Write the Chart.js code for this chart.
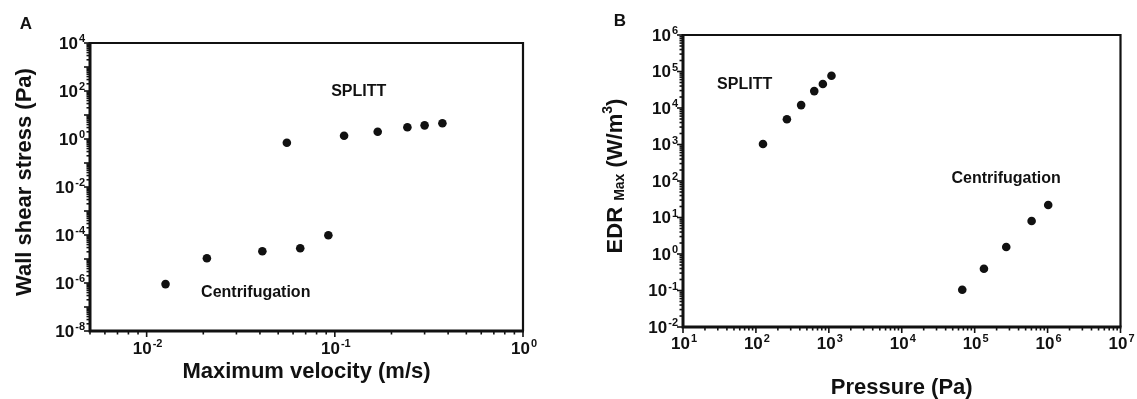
<!DOCTYPE html>
<html><head><meta charset="utf-8">
<script src="https://cdn.jsdelivr.net/npm/chart.js@4/dist/chart.umd.min.js"></script>
<style>
html,body{margin:0;padding:0;background:#fff;}
#wrap{position:relative;width:1137px;height:399px;overflow:hidden;background:#fff;}
#ca{position:absolute;left:0;top:0;width:560px;height:399px;}
#cb{position:absolute;left:560px;top:0;width:577px;height:399px;}
</style></head><body>
<div id="wrap"><div id="ca"><canvas id="a"></canvas></div><div id="cb"><canvas id="b"></canvas></div></div>
<script>
// ---- Panel A data ----
const aCentVel = [0.0126, 0.0209, 0.0412, 0.0655, 0.0924];
const aCentStress = [9e-7, 1.07e-5, 2.1e-5, 2.8e-5, 9.7e-5];
const aSplittVel = [0.0556, 0.112, 0.169, 0.243, 0.300, 0.373];
const aSplittStress = [0.70, 1.37, 2.0, 3.07, 3.7, 4.5];
const aXTickExps = [-2, -1, 0];
const aYTickExps = [-8, -6, -4, -2, 0, 2, 4];
// ---- Panel B data ----
const bSplittP = [125, 266, 417, 631, 828, 1087];
const bSplittEDR = [1030, 4900, 12000, 29000, 45500, 76700];
const bCentP = [67600, 134000, 271000, 604000, 1020000];
const bCentEDR = [0.105, 0.395, 1.56, 8.0, 22];
const bXTickExps = [1, 2, 3, 4, 5, 6, 7];
const bYTickExps = [-2, -1, 0, 1, 2, 3, 4, 5, 6];

const FONT = '"Liberation Sans", Arial, Helvetica, sans-serif';
const INK = '#111';

function pts(xs, ys){ return xs.map((x,i)=>({x:x, y:ys[i]})); }

function drawPow(ctx, x, y, exp, mode){
  const base = 'bold 17px ' + FONT, sup = 'bold 11px ' + FONT;
  ctx.font = base; const w1 = ctx.measureText('10').width;
  ctx.font = sup; const es = String(exp); const w2 = ctx.measureText(es).width;
  const tot = w1 + 1 + w2;
  let sx = mode === 'x' ? x - tot/2 : x - tot;
  ctx.fillStyle = INK; ctx.textBaseline = 'middle'; ctx.textAlign = 'left';
  ctx.font = base; ctx.fillText('10', sx, y);
  ctx.font = sup; ctx.fillText(es, sx + w1 + 1, y - 5);
}

function rotText(ctx, x, y, parts){
  ctx.save(); ctx.translate(x, y); ctx.rotate(-Math.PI/2);
  let tot = 0;
  parts.forEach(p=>{ ctx.font = p.font; p.w = ctx.measureText(p.t).width; tot += p.w; });
  let cx = -tot/2;
  ctx.fillStyle = INK; ctx.textBaseline = 'middle'; ctx.textAlign = 'left';
  parts.forEach(p=>{ ctx.font = p.font; ctx.fillText(p.t, cx, p.dy||0); cx += p.w; });
  ctx.restore();
}

function decoPlugin(cfg){
  return {
    id: 'deco',
    afterDraw(chart){
      const ctx = chart.ctx, a = chart.chartArea, xs = chart.scales.x, ys = chart.scales.y;
      ctx.save();
      ctx.strokeStyle = INK; ctx.lineCap = 'butt';
      ctx.lineWidth = 2.2;
      ctx.beginPath(); ctx.moveTo(a.left, a.top); ctx.lineTo(a.right, a.top); ctx.lineTo(a.right, a.bottom); ctx.stroke();
      ctx.lineWidth = 3;
      ctx.beginPath(); ctx.moveTo(a.left, a.top - 1); ctx.lineTo(a.left, a.bottom); ctx.lineTo(a.right + 1, a.bottom); ctx.stroke();
      ctx.lineWidth = 1.6;
      const tickSet = (scale, horiz) => {
        const lo = Math.floor(Math.log10(scale.min)), hi = Math.ceil(Math.log10(scale.max));
        for (let e = lo; e <= hi; e++) {
          for (let m = 1; m <= 9; m++) {
            const v = m * Math.pow(10, e);
            if (v < scale.min * 0.999 || v > scale.max * 1.001) continue;
            const p = scale.getPixelForValue(v);
            const len = m === 1 ? 6 : 3.5;
            ctx.beginPath();
            if (horiz) { ctx.moveTo(p, a.bottom); ctx.lineTo(p, a.bottom + len); }
            else { ctx.moveTo(a.left, p); ctx.lineTo(a.left - len, p); }
            ctx.stroke();
          }
        }
      };
      tickSet(xs, true); tickSet(ys, false);
      cfg.xExps.forEach(e => drawPow(ctx, xs.getPixelForValue(Math.pow(10, e)) + 1, a.bottom + cfg.xLabOff, e, 'x'));
      cfg.yExps.forEach(e => drawPow(ctx, a.left - cfg.yLabOff, ys.getPixelForValue(Math.pow(10, e)) + 1, e, 'y'));
      ctx.fillStyle = INK; ctx.textAlign = 'center'; ctx.textBaseline = 'middle';
      ctx.font = 'bold 16px ' + FONT;
      cfg.notes.forEach(n => ctx.fillText(n.t, xs.getPixelForValue(n.x), ys.getPixelForValue(n.y)));
      ctx.font = 'bold 22px ' + FONT;
      ctx.fillText(cfg.xTitle, (a.left + a.right)/2, cfg.xTitleY);
      rotText(ctx, cfg.yTitleX, cfg.yTitleY, cfg.yTitle);
      ctx.font = 'bold 17px ' + FONT; ctx.textAlign = 'center';
      ctx.fillText(cfg.letter, cfg.letterX, cfg.letterY);
      ctx.restore();
    }
  };
}

function makeChart(id, datasets, xr, yr, pad, cfg){
  return new Chart(document.getElementById(id), {
    type: 'scatter',
    data: { datasets: datasets.map(d => ({ data: d, backgroundColor: INK, borderColor: INK, pointRadius: 4.3, pointHoverRadius: 4.3, borderWidth: 0 })) },
    options: {
      responsive: true, maintainAspectRatio: false, animation: false,
      layout: { padding: pad },
      plugins: { legend: { display: false }, tooltip: { enabled: false } },
      scales: {
        x: { type: 'logarithmic', min: xr[0], max: xr[1], ticks: { display: false }, grid: { display: false }, border: { display: false }, afterFit: s => { s.height = 0; } },
        y: { type: 'logarithmic', min: yr[0], max: yr[1], ticks: { display: false }, grid: { display: false }, border: { display: false }, afterFit: s => { s.width = 0; } }
      }
    },
    plugins: [decoPlugin(cfg)]
  });
}

makeChart('a', [pts(aCentVel, aCentStress), pts(aSplittVel, aSplittStress)],
  [0.005, 1], [1e-8, 1e4],
  { left: 90, top: 43, right: 37, bottom: 68 },
  { xExps: aXTickExps, yExps: aYTickExps, xLabOff: 18, yLabOff: 5,
    notes: [{ t: 'SPLITT', x: 0.134, y: 91 }, { t: 'Centrifugation', x: 0.038, y: 3.8e-7 }],
    xTitle: 'Maximum velocity (m/s)', xTitleY: 372,
    yTitle: [{ t: 'Wall shear stress (Pa)', font: 'bold 22px ' + FONT }], yTitleX: 25, yTitleY: 182,
    letter: 'A', letterX: 26, letterY: 24 });

makeChart('b', [pts(bSplittP, bSplittEDR), pts(bCentP, bCentEDR)],
  [10, 1e7], [0.01, 1e6],
  { left: 123, top: 35, right: 16.5, bottom: 72 },
  { xExps: bXTickExps, yExps: bYTickExps, xLabOff: 17, yLabOff: 5,
    notes: [{ t: 'SPLITT', x: 70, y: 43000 }, { t: 'Centrifugation', x: 270000, y: 120 }],
    xTitle: 'Pressure (Pa)', xTitleY: 388,
    yTitle: [
      { t: 'EDR ', font: 'bold 22px ' + FONT },
      { t: 'Max', font: 'bold 14px ' + FONT, dy: 4 },
      { t: ' (W/m', font: 'bold 22px ' + FONT },
      { t: '3', font: 'bold 14px ' + FONT, dy: -8 },
      { t: ')', font: 'bold 22px ' + FONT }
    ], yTitleX: 56, yTitleY: 176,
    letter: 'B', letterX: 60, letterY: 21 });
</script>
</body></html>
